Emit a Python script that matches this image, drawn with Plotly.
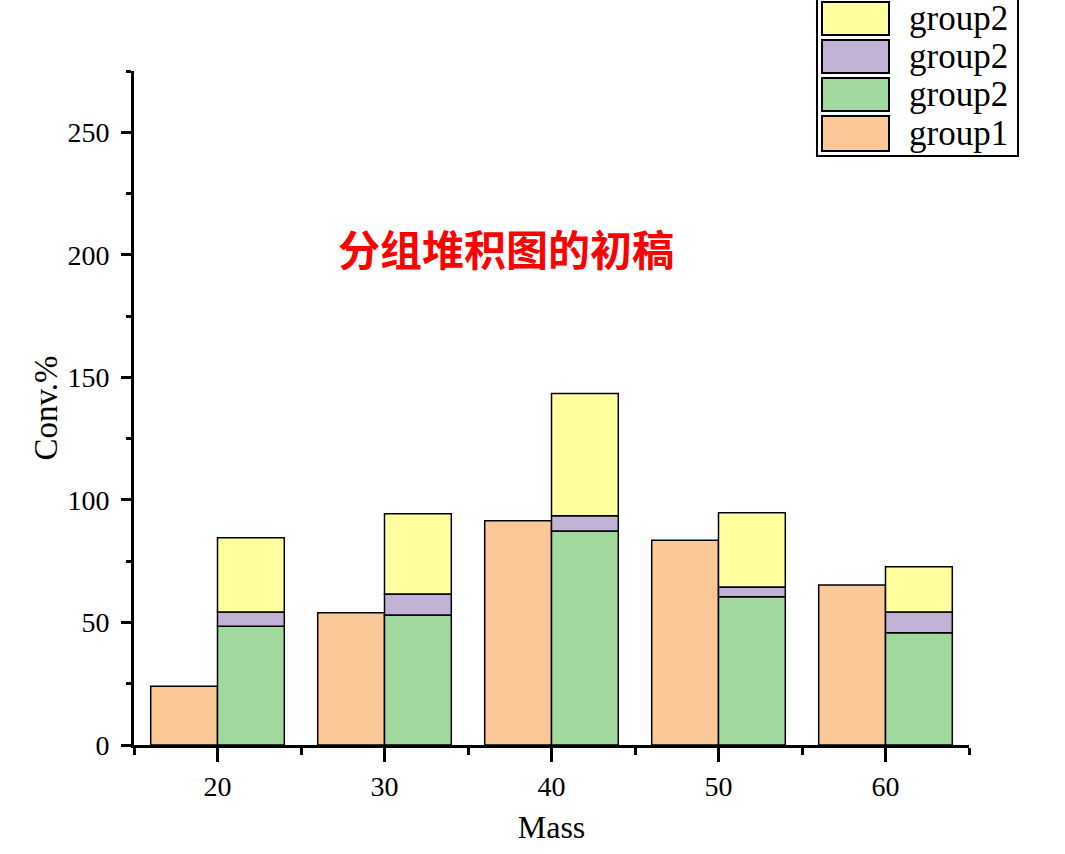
import numpy as np
import plotly.graph_objects as go

# data
mass = [20, 30, 40, 50, 60]
group1 = [24, 54, 91.5, 83.5, 65.3]
group2_a = [48.5, 53, 87.3, 60.5, 45.8]   # green, bottom of stack
group2_b = [5.8, 8.6, 6.2, 4.0, 8.5]      # purple, middle
group2_c = [30.3, 32.8, 49.9, 30.3, 18.4]  # yellow, top
names = ["group1", "group2", "group2", "group2"]

orange = "#FBC898"
green = "#A0D89E"
purple = "#C2B2D6"
yellow = "#FFFFA0"

serif = "Liberation Serif"
bar_line = dict(color="black", width=1.5)

fig = go.Figure()

# group1 sits to the left of each x value
fig.add_trace(go.Bar(x=mass, y=group1, offset=-4, width=4, name=names[0],
                     marker=dict(color=orange, line=bar_line)))

# group2 stacked to the right
base_b = np.array(group2_a)
base_c = base_b + np.array(group2_b)
fig.add_trace(go.Bar(x=mass, y=group2_a, offset=0, width=4, name=names[1],
                     marker=dict(color=green, line=bar_line)))
fig.add_trace(go.Bar(x=mass, y=group2_b, base=base_b, offset=0, width=4, name=names[2],
                     marker=dict(color=purple, line=bar_line)))
fig.add_trace(go.Bar(x=mass, y=group2_c, base=base_c, offset=0, width=4, name=names[3],
                     marker=dict(color=yellow, line=bar_line)))

W, H = 1065, 854
# plot area in pixels
L, R, T, B = 134, 969, 71, 745


def px_x(p):
    return (p - L) / (R - L)


def px_y(p):
    return (B - p) / (B - T)


shapes = [dict(type="rect", xref="paper", yref="paper",
               x0=px_x(817), x1=px_x(1018), y0=px_y(156), y1=px_y(-2),
               line=dict(color="black", width=2), fillcolor="white", layer="above")]
annotations = []
legend_rows = [(yellow, names[3], 2, 35), (purple, names[2], 40, 73),
               (green, names[1], 78, 111), (orange, names[0], 116, 151)]
for col, nm, top, bot in legend_rows:
    shapes.append(dict(type="rect", xref="paper", yref="paper",
                       x0=px_x(822), x1=px_x(889), y0=px_y(bot), y1=px_y(top),
                       line=dict(color="black", width=2), fillcolor=col, layer="above"))
    annotations.append(dict(text=nm, xref="paper", yref="paper",
                            x=px_x(907), y=px_y((top + bot) / 2),
                            xanchor="left", yanchor="middle", showarrow=False,
                            font=dict(family=serif, size=35, color="black")))

annotations.append(dict(text="<b>分组堆积图的初稿</b>", xref="paper", yref="paper",
                        x=px_x(506), y=px_y(247),
                        showarrow=False, xanchor="center", yanchor="middle",
                        font=dict(family="Noto Sans CJK SC", size=42, color="#FF0000")))

fig.update_layout(
    width=W, height=H,
    margin=dict(l=L, r=W - R, t=T, b=H - B, pad=0),
    plot_bgcolor="white", paper_bgcolor="white",
    barmode="overlay", showlegend=False,
    shapes=shapes, annotations=annotations,
    font=dict(family=serif, size=28, color="black"),
)

fig.update_xaxes(range=[15, 65], tickvals=mass, ticks="outside", ticklen=14, tickwidth=3,
                 tickcolor="black", showline=True, linecolor="black", linewidth=3,
                 showgrid=False, zeroline=False,
                 minor=dict(tickvals=[15, 25, 35, 45, 55, 65], ticks="outside", ticklen=7,
                            tickwidth=3, tickcolor="black"),
                 title=dict(text="Mass", font=dict(size=32), standoff=16),
                 tickfont=dict(size=28))
fig.update_yaxes(range=[0, 275], dtick=50, ticks="outside", ticklen=10, tickwidth=3,
                 tickcolor="black", showline=True, linecolor="black", linewidth=3,
                 showgrid=False, zeroline=False, ticklabelstandoff=6,
                 minor=dict(dtick=25, ticks="outside", ticklen=5, tickwidth=3, tickcolor="black"),
                 title=dict(text="Conv.%", font=dict(size=33), standoff=0),
                 tickfont=dict(size=28))

# drop the default body margin so the figure fills the window
fig.write_html("out.html", config={"displayModeBar": False},
               post_script="document.body.style.margin='0';")
